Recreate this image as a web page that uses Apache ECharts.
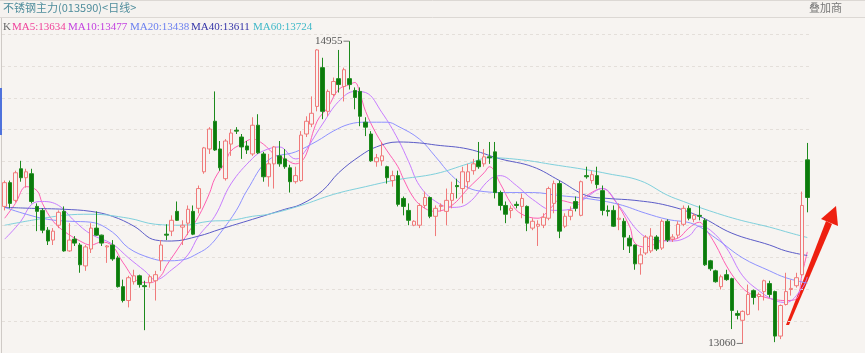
<!DOCTYPE html>
<html>
<head>
<meta charset="utf-8">
<script src="https://cdn.jsdelivr.net/npm/echarts@6/dist/echarts.min.js"></script>
<style>
  html, body { margin: 0; padding: 0; background: #f7f4f1; }
  #kline { width: 865px; height: 353px; }
</style>
</head>
<body>
<div id="kline"></div>
<script>
// 不锈钢主力 日线, 150 根 K 线 (open / close / low / high)
const opens = [13919,14068,13957,14155,14099,14124,13919,13894,13770,13708,13801,13888,13640,13714,13677,13546,13652,13783,13739,13665,
  13677,13596,13416,13329,13447,13484,13422,13441,13453,13578,13745,13764,13888,13789,13814,13888,13907,14136,14279,14453,
  14279,14093,14310,14397,14354,14298,14248,14428,14248,14105,14186,14236,14217,14161,14074,14081,14373,14435,14546,14789,
  14515,14621,14720,14671,14720,14646,14640,14447,14373,14199,14205,14168,14081,14112,13969,13894,13801,13801,13925,13975,
  13857,13919,13888,13957,14050,14031,14074,14143,14205,14186,14230,14261,14006,13925,13894,13932,13919,13919,13783,13795,
  13801,13845,13938,14062,13795,13857,13950,13863,14112,14081,14112,14018,13894,13894,13838,13826,13720,13677,13559,13627,
  13640,13727,13658,13826,13714,13739,13807,13907,13838,13863,13832,13578,13515,13416,13491,13466,13248,13205,13242,13391,
  13354,13385,13435,13385,13106,13304,13398,13422,13491,14211]
const closes = [14068,13938,14130,14099,14136,13950,13888,13770,13702,13764,13882,13640,13708,13689,13553,13665,13783,13739,13689,13671,
  13590,13416,13329,13472,13484,13429,13416,13478,13491,13677,13739,13832,13832,13801,13901,13745,14031,14286,14404,14273,
  14161,14329,14379,14391,14292,14273,14428,14255,14105,14186,14292,14186,14168,14074,14112,14366,14453,14503,14900,14515,
  14640,14702,14683,14776,14683,14602,14484,14416,14205,14224,14236,14099,14112,13932,13919,13832,13826,13925,13975,13857,
  13907,13925,13957,14000,14043,14136,14136,14186,14168,14230,14224,14006,13925,13870,13907,13925,13969,13814,13826,13807,
  13851,14031,14062,13764,13857,13894,13907,14074,14105,14118,14056,13894,13888,13795,13845,13727,13671,13559,13615,13727,
  13733,13652,13826,13708,13727,13807,13907,13845,13863,13857,13553,13528,13447,13478,13460,13267,13236,13261,13367,13348,
  13367,13453,13367,13106,13298,13385,13405,13472,13925,13975]
const lows = [13894,13907,13944,14074,14037,13938,13764,13751,13677,13677,13783,13635,13635,13671,13503,13515,13627,13735,13671,13565,
  13578,13410,13317,13286,13429,13410,13143,13410,13329,13515,13708,13733,13828,13677,13739,13739,13876,14124,14248,14267,
  14143,14081,14236,14373,14217,14248,14236,14248,14074,14043,14031,14168,14155,14006,14062,14074,14354,14416,14515,14466,
  14484,14609,14633,14577,14652,14528,14422,14360,14199,14168,14174,14062,14043,13919,13863,13801,13795,13783,13907,13845,
  13733,13888,13801,13907,13969,13938,14031,14118,14155,14168,14186,13969,13894,13814,13845,13907,13845,13764,13770,13671,
  13783,13832,13876,13720,13783,13832,13888,13857,14093,14062,14031,13863,13857,13790,13770,13646,13627,13522,13491,13615,
  13627,13640,13646,13696,13696,13720,13795,13832,13820,13832,13546,13515,13441,13398,13453,13150,13211,13060,13236,13304,
  13267,13329,13348,13068,13087,13298,13360,13410,13484,13882]
const highs = [14081,14081,14143,14205,14155,14155,13938,13907,13789,13783,13894,13919,13814,13733,13689,13677,13814,13888,13742,13677,
  13708,13609,13460,13484,13522,13491,13453,13491,13515,13708,13807,13863,13950,13832,13925,13925,14050,14292,14416,14640,
  14329,14341,14404,14416,14373,14329,14478,14497,14261,14248,14298,14329,14279,14180,14168,14391,14484,14609,14905,14851,
  14652,14727,14900,14789,14955,14665,14665,14478,14391,14248,14323,14174,14143,14143,13981,13938,13832,13938,14012,13981,
  13925,13938,14031,14074,14093,14168,14186,14217,14323,14279,14323,14323,14018,13950,13925,13950,14000,13925,13845,13832,
  13876,14043,14081,14081,13876,13919,13981,14081,14168,14143,14168,14050,13925,13925,13938,13845,13739,13680,13658,13739,
  13783,13739,13838,13838,13745,13826,13925,13925,13876,13925,13845,13584,13522,13491,13522,13472,13267,13267,13429,13398,
  13379,13460,13453,13391,13304,13503,13460,13503,14012,14317]

// 均线 (按图读取的点: [K线序号, 价格])
const ma5 = [[0,13845],[2,13938],[4,14043],[6,14018],[7,13938],[9,13826],[11,13764],[14,13702],[16,13677],[18,13696],[20,13671],
  [22,13565],[25,13447],[27,13441],[29,13484],[30,13546],[32,13646],[34,13751],[36,13857],[38,14000],[39,14093],[41,14199],
  [42,14267],[44,14310],[46,14341],[48,14310],[50,14248],[52,14217],[54,14186],[55,14199],[56,14248],[58,14453],[60,14540],
  [62,14652],[64,14683],[65,14696],[66,14621],[67,14515],[69,14373],[71,14267],[73,14168],[74,14093],[76,13969],[78,13907],
  [80,13888],[83,13925],[86,14031],[89,14130],[90,14168],[92,14062],[94,13938],[96,13870],[99,13845],[101,13894],[103,13957],
  [106,13938],[108,13987],[111,14031],[113,13969],[116,13795],[117,13689],[119,13665],[122,13702],[125,13720],[127,13783],
  [129,13820],[130,13783],[132,13677],[134,13546],[136,13447],[138,13379],[140,13360],[143,13335],[145,13329],[147,13340],
  [148,13490],[149,13634]]
const ma10 = [[0,13714],[3,13826],[5,13932],[7,13950],[10,13925],[13,13826],[16,13745],[20,13683],[23,13596],[26,13515],
  [28,13460],[31,13522],[34,13615],[36,13733],[39,13857],[42,14060],[46,14220],[48,14267],[51,14292],[54,14217],[55,14230],
  [59,14435],[62,14577],[65,14640],[67,14633],[70,14509],[73,14341],[75,14199],[77,14050],[80,13950],[83,13913],[86,13938],
  [90,14087],[92,14112],[95,14050],[98,13963],[102,13894],[105,13901],[108,13975],[111,14031],[114,13925],[118,13751],
  [121,13708],[124,13702],[127,13733],[129,13795],[131,13770],[134,13658],[137,13484],[140,13391],[143,13329],[145,13317],
  [148,13405],[149,13477]]
const ma20 = [[0,13913],[4,13870],[8,13838],[12,13826],[16,13820],[20,13758],[23,13658],[27,13596],[30,13578],[33,13584],
  [36,13627],[38,13671],[40,13751],[43,13894],[45,14020],[49,14211],[54,14261],[58,14329],[61,14391],[64,14435],[67,14447],
  [71,14447],[73,14422],[77,14341],[80,14230],[83,14112],[86,14037],[89,14012],[93,14006],[98,14006],[103,13987],[108,13969],
  [114,13932],[119,13876],[123,13838],[128,13807],[132,13720],[137,13596],[142,13515],[145,13472],[149,13438]]
const ma40 = [[0,13913],[5,13907],[11,13901],[16,13888],[20,13857],[24,13795],[28,13708],[31,13702],[36,13733],[40,13776],
  [46,13838],[52,13901],[55,13932],[59,14018],[62,14130],[66,14236],[69,14292],[73,14323],[77,14317],[80,14304],[86,14279],
  [92,14217],[98,14168],[103,14081],[108,13987],[112,13969],[117,13957],[123,13925],[129,13857],[135,13751],[142,13677],
  [145,13640],[149,13611]]
const ma60 = [[0,13801],[5,13832],[11,13863],[16,13870],[23,13845],[28,13807],[33,13801],[38,13826],[42,13832],[46,13857],
  [49,13870],[55,13925],[61,13994],[67,14043],[73,14087],[80,14124],[86,14186],[90,14224],[96,14211],[102,14180],[108,14149],
  [112,14124],[118,14080],[123,13990],[126,13950],[130,13901],[136,13838],[142,13789],[146,13751],[149,13724]]

const maNames = ['MA5', 'MA10', 'MA20', 'MA40', 'MA60']
const maLast = [13634, 13477, 13438, 13611, 13724]
const maLineColors = ['#ff5fb4', '#c77dff', '#8f92ff', '#5c5cc8', '#7fd0dc']
const maTextColors = ['#f0409a', '#c23fe0', '#6a7ff0', '#3434a8', '#3fb8c8']
const maTextX = [12, 68, 130, 191, 253]

const days = opens.map((_, i) => i + 1)
const kdata = opens.map((o, i) => [o, closes[i], lows[i], highs[i]])
const maSeriesData = [ma5, ma10, ma20, ma40, ma60]

const chart = echarts.init(document.getElementById('kline'), null, { renderer: 'canvas' })

const legendTexts = [{
  type: 'text', left: 3, top: 22,
  style: { text: 'K', fill: '#666', font: '11px "Liberation Serif"' }
}]
for (let i = 0; i < maNames.length; i++) {
  legendTexts.push({
    type: 'text', left: maTextX[i], top: 22,
    style: { text: maNames[i] + ':' + maLast[i], fill: maTextColors[i], font: '11px "Liberation Serif"' }
  })
}

chart.setOption({
  animation: false,
  backgroundColor: '#f7f4f1',
  grid: { left: 2, width: 808, top: 34, height: 322 },
  xAxis: [
    {
      type: 'category', data: days, boundaryGap: true,
      axisLine: { show: false }, axisTick: { show: false }, axisLabel: { show: false },
      splitLine: { show: false }
    },
    {
      type: 'value', min: -0.5, max: 149.5, show: false
    }
  ],
  yAxis: {
    type: 'value', min: 13000, max: 15000, interval: 200, scale: true,
    axisLine: { show: false }, axisTick: { show: false }, axisLabel: { show: false },
    splitLine: { show: true, lineStyle: { color: '#e4dfda', type: [3, 3], width: 1 } }
  },
  series: [
    {
      type: 'candlestick',
      data: kdata,
      barWidth: 4,
      itemStyle: {
        color: '#f7f4f1',
        color0: '#0b7a0b',
        borderColor: '#f07a7a',
        borderColor0: '#1d8a1d',
        borderWidth: 1
      },
      markPoint: {
        symbol: 'rect',
        symbolSize: [6, 1],
        symbolOffset: [-3, 0],
        itemStyle: { color: '#777' },
        label: {
          show: true, position: 'left', distance: 1,
          color: '#555', fontSize: 11, fontFamily: 'Liberation Serif',
          formatter: p => p.value
        },
        data: [
          { type: 'max', valueDim: 'highest' },
          { type: 'min', valueDim: 'lowest' }
        ]
      }
    },
    ...maSeriesData.map((d, i) => ({
      type: 'line',
      name: maNames[i],
      xAxisIndex: 1,
      data: d,
      smooth: 0.4,
      symbol: 'none',
      lineStyle: { color: maLineColors[i], width: 1 },
      z: 1
    }))
  ],
  graphic: [
    // 顶栏
    { type: 'rect', shape: { x: 0, y: 0, width: 865, height: 17 }, style: { fill: '#f5f2ef' } },
    { type: 'line', shape: { x1: 0, y1: 17.5, x2: 865, y2: 17.5 }, style: { stroke: '#dcd8d4', lineWidth: 1 } },
    { type: 'line', shape: { x1: 0, y1: 0.5, x2: 865, y2: 0.5 }, style: { stroke: '#dcd8d4', lineWidth: 1 } },
    {
      type: 'text', left: 3, top: 2,
      style: { text: '不锈钢主力(013590)<日线>', fill: '#4f8d9c', font: '11px "Noto Sans CJK SC"' }
    },
    {
      type: 'text', left: 809, top: 2,
      style: { text: '叠加商', fill: '#777', font: '11px "Noto Sans CJK SC"' }
    },
    ...legendTexts,
    // 左边框
    { type: 'line', shape: { x1: 1.5, y1: 18, x2: 1.5, y2: 353 }, style: { stroke: '#cfcac6', lineWidth: 1 } },
    { type: 'rect', shape: { x: 0, y: 88, width: 2, height: 47 }, style: { fill: '#4f72dc' } },
    // 红色箭头
    {
      type: 'polygon',
      shape: { points: [[786, 325], [789, 325], [832, 224], [826, 221]] },
      style: { fill: '#ee2010' }
    },
    {
      type: 'polygon',
      shape: { points: [[836, 206], [821, 219], [838, 226]] },
      style: { fill: '#ee2010' }
    }
  ]
})
</script>
</body>
</html>
